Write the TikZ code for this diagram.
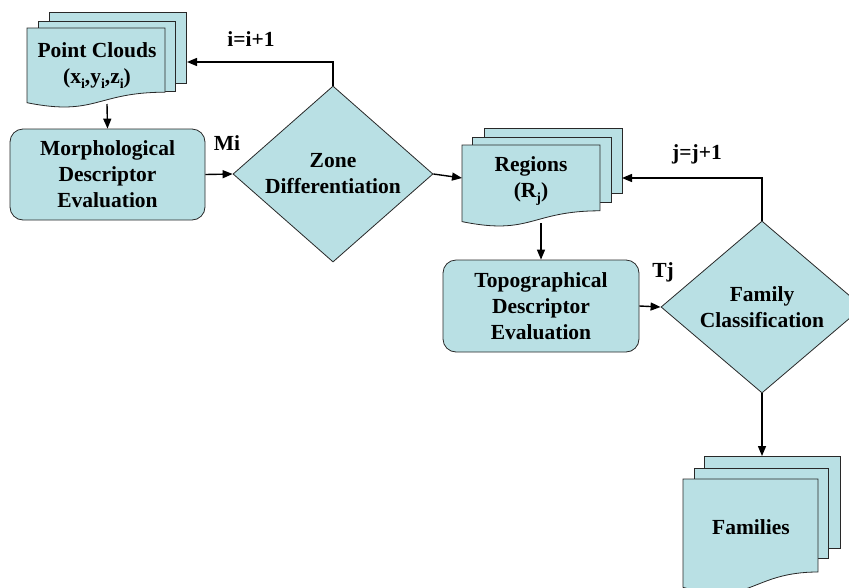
\documentclass[tikz,border=0pt]{standalone}
\usepackage{fontspec}
\setmainfont{Liberation Serif}
\usetikzlibrary{arrows.meta,shapes.geometric}
\definecolor{fillc}{RGB}{185,224,228}
\definecolor{edgec}{RGB}{40,40,40}
\newcommand{\lowsub}[1]{\raisebox{-5pt}{\fontsize{14}{14}\selectfont #1}}
\tikzset{
  page/.style={fill=fillc,draw=edgec,line width=0.8pt},
  procbox/.style={fill=fillc,draw=edgec,line width=0.8pt,rounded corners=13pt,
    minimum width=195pt,minimum height=91pt,inner sep=0pt,align=center},
  decision/.style={diamond,fill=fillc,draw=edgec,line width=0.8pt,
    minimum width=200pt,minimum height=172pt,inner sep=0pt,align=center},
  txt/.style={align=center,inner sep=0pt},
  lbl/.style={inner sep=0pt},
  conn/.style={line width=1.4pt,-{Triangle[length=10pt,width=8pt]}},
  every node/.style={font=\fontsize{21.5}{26}\selectfont\bfseries}
}
\begin{document}
\begin{tikzpicture}[x=1pt,y=-1pt]
\useasboundingbox (0,0) rectangle (849,587);
\begin{scope}
\clip (0,0) rectangle (849,587);
% Point Clouds multidocument
\draw[page] (49,12) rectangle (186,83);
\draw[page] (38,21) rectangle (175,91);
\draw[page] (27,28) -- (165,28) -- (165,92.2) .. controls (96,92.2) and (96,116.6) .. (27,102.7) -- cycle;
\node[txt] (pc) at (97,66) {Point Clouds\\(x\lowsub{i},y\lowsub{i},z\lowsub{i})};
\coordinate (pcout) at (107,104);
\coordinate (pcin) at (187,62);
% Regions multidocument
\draw[page] (484,128) rectangle (622,193);
\draw[page] (472,137) rectangle (611,202);
\draw[page] (462,145) -- (600,145) -- (600,210.8) .. controls (531,210.8) and (531,235.8) .. (462,221.6) -- cycle;
\node[txt] (reg) at (531,181) {Regions\\(R\lowsub{j})};
\coordinate (regin) at (462,178);
\coordinate (regin2) at (622,178);
\coordinate (regout) at (541,223);
% Families multidocument
\draw[page] (704,456) rectangle (840,548);
\draw[page] (694,468) rectangle (828,558);
\draw[page] (683,479) -- (818,479) -- (818,572) .. controls (750.5,572) and (750.5,607.4) .. (683,587.3) -- cycle;
\node[txt] (fams) at (751,527) {Families};
\coordinate (famin) at (762,456);
% process boxes
\node[procbox] (morph) at (107.5,174.5) {Morphological\\Descriptor\\Evaluation};
\node[procbox,minimum width=196pt,minimum height=92pt] (topo) at (541,306) {Topographical\\Descriptor\\Evaluation};
% decisions
\node[decision] (zone) at (333,174) {Zone\\Differentiation};
\node[decision,minimum width=202pt] (fam) at (762,307) {Family\\Classification};
% connectors
\draw[conn] (pcout) -- (morph.north);
\draw[conn] (morph.east) -- (zone.west);
\draw[conn] (zone.north) |- (pcin);
\draw[conn] (zone.east) -- (regin);
\draw[conn] (regout) -- (topo.north);
\draw[conn] (topo.east) -- (fam.west);
\draw[conn] (fam.north) |- (regin2);
\draw[conn] (fam.south) -- (famin);
% labels
\node[lbl] (li) at (251,39) {i=i+1};
\node[lbl] (lmi) at (227,143) {Mi};
\node[lbl] (lj) at (697,154) {j=j+1};
\node[lbl] (ltj) at (663,272) {Tj};
\end{scope}
\end{tikzpicture}
\end{document}
